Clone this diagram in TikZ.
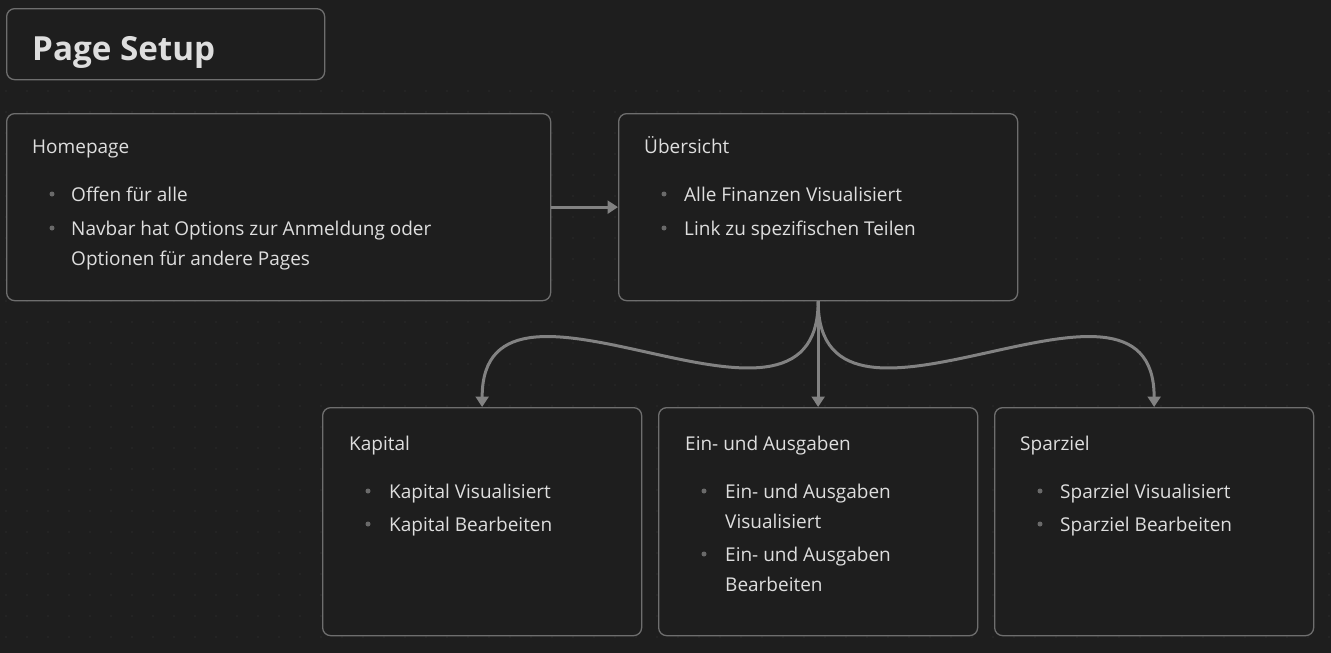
\documentclass[tikz,border=0pt]{standalone}
\usepackage{fontspec}
\setmainfont{Open Sans}
\usetikzlibrary{arrows.meta}
\definecolor{bg}{HTML}{1E1E1E}
\definecolor{griddot}{HTML}{2C2C2C}
\definecolor{boxline}{HTML}{6E6E6E}
\definecolor{boxfill}{HTML}{1E1E1E}
\definecolor{txt}{HTML}{DEDEDE}
\definecolor{conn}{HTML}{828282}
\definecolor{bul}{HTML}{6A6A6A}
\tikzset{
  card/.style={draw=boxline, fill=boxfill, line width=1.3pt, rounded corners=8pt, anchor=north west, inner sep=0pt},
  body/.style={text=txt, anchor=base west, inner sep=0pt, font=\fontsize{19}{22}\selectfont},
  titletxt/.style={text=txt, anchor=base west, inner sep=0pt, font=\fontsize{33.2}{40}\selectfont\bfseries},
  bulletdot/.style={circle, fill=bul, minimum size=5pt, inner sep=0pt},
  link/.style={draw=conn, line width=3pt, -{Triangle[length=10.5pt,width=13pt]}}
}
\begin{document}
\begin{tikzpicture}[x=1pt,y=-1pt]
\useasboundingbox (0,0) rectangle (1331,653);
\fill[bg] (0,0) rectangle (1331,653);
\foreach \i in {0,...,63}{\foreach \j in {0,...,26}{\fill[griddot] (6+21*\i,91+21*\j) circle (0.8pt);}}
% boxes
\node[card, minimum width=318pt, minimum height=71pt] (title) at (6,8) {};
\node[card, minimum width=544pt, minimum height=187pt] (home) at (6,113) {};
\node[card, minimum width=399pt, minimum height=187pt] (ueber) at (618,113) {};
\node[card, minimum width=319pt, minimum height=228pt] (kap) at (322,407) {};
\node[card, minimum width=319pt, minimum height=228pt] (ein) at (658,407) {};
\node[card, minimum width=319pt, minimum height=228pt] (spar) at (994,407) {};
% title
\node[titletxt] (titletext) at (32,60) {Page Setup};
% homepage
\node[body] (homeh) at (32,153) {Homepage};
\node[bulletdot] (hb1) at (52,194) {};
\node[body] (ht1) at (71,201.5) {Offen für alle};
\node[bulletdot] (hb2) at (52,228) {};
\node[body] (ht2) at (71,235) {Navbar hat Options zur Anmeldung oder};
\node[body] (ht3) at (71,265) {Optionen für andere Pages};
% uebersicht
\node[body] (ueh) at (644,153) {Übersicht};
\node[bulletdot] (ub1) at (664,194) {};
\node[body] (ut1) at (684,201.5) {Alle Finanzen Visualisiert};
\node[bulletdot] (ub2) at (664,228) {};
\node[body] (ut2) at (684,235) {Link zu spezifischen Teilen};
% kapital
\node[body] (kh) at (349,450) {Kapital};
\node[bulletdot] (kb1) at (368,491) {};
\node[body] (kt1) at (389,498) {Kapital Visualisiert};
\node[bulletdot] (kb2) at (368,524) {};
\node[body] (kt2) at (389,531) {Kapital Bearbeiten};
% ein und ausgaben
\node[body] (eh) at (685,450) {Ein- und Ausgaben};
\node[bulletdot] (eb1) at (704,491) {};
\node[body] (et1) at (725,498) {Ein- und Ausgaben};
\node[body] (et2) at (725,528) {Visualisiert};
\node[bulletdot] (eb2) at (704,554) {};
\node[body] (et3) at (725,561) {Ein- und Ausgaben};
\node[body] (et4) at (725,591) {Bearbeiten};
% sparziel
\node[body] (sh) at (1020,450) {Sparziel};
\node[bulletdot] (sb1) at (1040,491) {};
\node[body] (st1) at (1060,498) {Sparziel Visualisiert};
\node[bulletdot] (sb2) at (1040,524) {};
\node[body] (st2) at (1060,531) {Sparziel Bearbeiten};
% connectors
\draw[link] (home.east) -- (ueber.west);
\draw[link] (ueber.south) .. controls +(0,175) and +(0,-175) .. (kap.north);
\draw[link] (ueber.south) -- (ein.north);
\draw[link] (ueber.south) .. controls +(0,175) and +(0,-175) .. (spar.north);
\end{tikzpicture}
\end{document}
